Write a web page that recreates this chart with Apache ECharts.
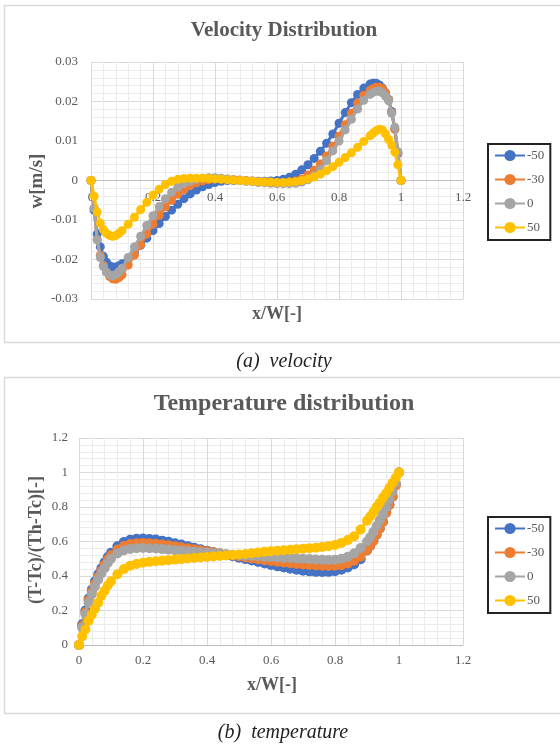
<!DOCTYPE html>
<html><head><meta charset="utf-8">
<script src="https://cdn.jsdelivr.net/npm/echarts@6/dist/echarts.min.js"></script>
<style>html,body{margin:0;padding:0;background:#fff}#c{width:560px;height:744px}</style>
</head><body><div id="c"></div>
<script>
// x/W positions shared by all series
const xs = [0,0.01,0.02,0.03,0.04,0.05,0.06,0.07,0.08,0.09,0.10,
 0.12,0.14,0.16,0.18,0.20,0.22,0.24,0.26,0.28,0.30,0.32,0.34,0.36,0.38,0.40,
 0.42,0.44,0.46,0.48,0.50,0.52,0.54,0.56,0.58,0.60,0.62,0.64,0.66,0.68,0.70,
 0.72,0.74,0.76,0.78,0.80,0.82,0.84,0.86,0.88,0.90,
 0.91,0.92,0.93,0.94,0.95,0.96,0.97,0.98,0.99,1.0];
const seriesNames = ['-50','-30','0','50'];
const colors = ['#4472C4','#ED7D31','#A5A5A5','#FFC000'];
const xTicks = [0,0.2,0.4,0.6,0.8,1,1.2];
const velTicks = [-0.03,-0.02,-0.01,0,0.01,0.02,0.03];
const tempTicks = [0,0.2,0.4,0.6,0.8,1,1.2];

// Velocity w [m/s]
const velM50 = [0,-0.0075,-0.0135,-0.0168,-0.0192,-0.0207,-0.0216,-0.0219,-0.0219,-0.0216,-0.0211,
 -0.0198,-0.0182,-0.0164,-0.0146,-0.0127,-0.0109,-0.0091,-0.0075,-0.0060,-0.0046,-0.0034,-0.0024,-0.0016,-0.0010,-0.0005,
 -0.0002,0.0000,0.0000,0.0000,-0.0001,-0.0001,-0.0002,-0.0002,-0.0001,0.0000,0.0003,0.0008,0.0016,0.0027,0.0040,
 0.0056,0.0074,0.0094,0.0118,0.0145,0.0172,0.0197,0.0218,0.0234,0.0244,
 0.0246,0.0246,0.0242,0.0234,0.0222,0.0205,0.0175,0.0130,0.0068,0];
const velM30 = [0,-0.0070,-0.0150,-0.0190,-0.0215,-0.0232,-0.0243,-0.0249,-0.0250,-0.0246,-0.0239,
 -0.0214,-0.0189,-0.0163,-0.0136,-0.0111,-0.0088,-0.0067,-0.0050,-0.0035,-0.0023,-0.0013,-0.0006,-0.0001,0.0002,0.0004,
 0.0004,0.0003,0.0002,0.0001,0.0000,-0.0002,-0.0003,-0.0004,-0.0005,-0.0005,-0.0005,-0.0004,-0.0001,0.0004,0.0014,
 0.0026,0.0042,0.0062,0.0086,0.0112,0.0141,0.0170,0.0196,0.0216,0.0228,
 0.0233,0.0236,0.0236,0.0232,0.0222,0.0205,0.0172,0.0130,0.0070,0];
const vel0 = [0,-0.0070,-0.0150,-0.0195,-0.0218,-0.0232,-0.0239,-0.0241,-0.0238,-0.0231,-0.0222,
 -0.0195,-0.0168,-0.0141,-0.0114,-0.0089,-0.0066,-0.0046,-0.0030,-0.0017,-0.0008,-0.0002,0.0003,0.0006,0.0007,0.0007,
 0.0006,0.0004,0.0002,0.0000,-0.0002,-0.0003,-0.0005,-0.0006,-0.0007,-0.0008,-0.0008,-0.0008,-0.0007,-0.0004,0.0002,
 0.0012,0.0028,0.0050,0.0075,0.0100,0.0128,0.0155,0.0181,0.0203,0.0218,
 0.0223,0.0226,0.0226,0.0222,0.0213,0.0202,0.0170,0.0135,0.0073,0];
const vel50 = [0,-0.0040,-0.0080,-0.0108,-0.0124,-0.0134,-0.0139,-0.0141,-0.0139,-0.0134,-0.0127,
 -0.0111,-0.0093,-0.0074,-0.0055,-0.0037,-0.0022,-0.0010,-0.0002,0.0003,0.0005,0.0006,0.0006,0.0006,0.0005,0.0004,
 0.0003,0.0002,0.0001,0.0000,-0.0001,-0.0002,-0.0003,-0.0004,-0.0004,-0.0005,-0.0005,-0.0004,-0.0003,0.0000,0.0004,
 0.0009,0.0016,0.0025,0.0035,0.0046,0.0058,0.0070,0.0084,0.0099,0.0113,
 0.0120,0.0126,0.0130,0.0128,0.0118,0.0104,0.0090,0.0072,0.0040,0];

// Temperature (T-Tc)/(Th-Tc)
const tmpM50 = [0,0.12,0.20,0.27,0.32,0.37,0.41,0.445,0.48,0.51,0.535,
 0.572,0.597,0.610,0.616,0.617,0.615,0.611,0.605,0.598,0.590,0.582,0.573,0.564,0.555,0.547,
 0.538,0.530,0.522,0.514,0.506,0.498,0.490,0.481,0.472,0.464,0.456,0.449,0.442,0.436,0.431,
 0.427,0.424,0.423,0.424,0.428,0.436,0.449,0.468,0.497,0.548,
 0.575,0.605,0.64,0.675,0.715,0.77,0.815,0.86,0.93,1.0];
const tmpM30 = [0,0.11,0.19,0.26,0.31,0.355,0.395,0.43,0.465,0.495,0.52,
 0.553,0.574,0.585,0.590,0.591,0.590,0.587,0.583,0.578,0.573,0.567,0.561,0.555,0.549,0.543,
 0.537,0.531,0.525,0.519,0.514,0.508,0.502,0.497,0.492,0.487,0.482,0.478,0.474,0.470,0.467,
 0.464,0.461,0.459,0.458,0.459,0.463,0.472,0.488,0.512,0.55,
 0.575,0.605,0.64,0.675,0.715,0.765,0.81,0.86,0.925,1.0];
const tmp0 = [0,0.10,0.18,0.245,0.295,0.34,0.38,0.415,0.445,0.475,0.50,
 0.530,0.548,0.557,0.561,0.562,0.561,0.559,0.556,0.553,0.550,0.547,0.544,0.541,0.538,0.535,
 0.532,0.529,0.526,0.523,0.520,0.518,0.516,0.514,0.512,0.510,0.508,0.506,0.504,0.502,0.500,
 0.498,0.496,0.494,0.493,0.494,0.500,0.512,0.532,0.562,0.600,
 0.625,0.655,0.69,0.725,0.76,0.80,0.845,0.89,0.94,1.0];
const tmp50 = [0,0.05,0.09,0.14,0.175,0.21,0.245,0.285,0.315,0.345,0.37,
 0.41,0.44,0.46,0.47,0.477,0.482,0.486,0.489,0.492,0.495,0.498,0.501,0.504,0.507,0.510,
 0.513,0.516,0.519,0.522,0.525,0.528,0.532,0.536,0.540,0.543,0.546,0.549,0.552,0.555,0.558,
 0.561,0.564,0.568,0.573,0.580,0.592,0.608,0.630,0.67,0.72,
 0.745,0.77,0.80,0.825,0.855,0.88,0.91,0.94,0.97,1.0];

const velSets = [velM50, velM30, vel0, vel50];
const tmpSets = [tmpM50, tmpM30, tmp0, tmp50];

const SERIF = "'Liberation Serif','Times New Roman',serif";
const GREY = '#595959';

function pts(arr){ return xs.map((x,i)=>[x, arr[i]]); }

function mkX(gi, offset){
  return {
    type:'value', gridIndex:gi, min:xTicks[0], max:xTicks[xTicks.length-1], interval:0.2,
    offset: offset,
    axisLine:{show:true, onZero:false, lineStyle:{color:'#bfbfbf', width:1}},
    axisTick:{show:false},
    axisLabel:{color:GREY, fontFamily:SERIF, fontSize:13, margin:gi===0?11:9},
    splitLine:{show:true, lineStyle:{color:'#d9d9d9', width:1}},
    minorTick:{show:false, splitNumber:5},
    minorSplitLine:{show:true, lineStyle:{color:'#ececec', width:1}}
  };
}
function mkY(gi, ticks){
  return {
    type:'value', gridIndex:gi, min:ticks[0], max:ticks[ticks.length-1],
    interval: ticks[1]-ticks[0],
    axisLine:{show:false},
    axisTick:{show:false},
    axisLabel:{color:GREY, fontFamily:SERIF, fontSize:13, margin:gi===0?13:11,
      formatter:v=>String(Math.round(v*1000)/1000)},
    splitLine:{show:true, lineStyle:{color:'#d9d9d9', width:1}},
    minorTick:{show:false, splitNumber:5},
    minorSplitLine:{show:true, lineStyle:{color:'#ececec', width:1}}
  };
}

const series = [];
seriesNames.forEach((n,k)=>{
  series.push({name:n, type:'line', xAxisIndex:0, yAxisIndex:0, data:pts(velSets[k]),
    symbol:'circle', symbolSize:9, showAllSymbol:true, color:colors[k],
    lineStyle:{width:3}, itemStyle:{color:colors[k]}, animation:false, z:2+k});
  series.push({name:n, type:'line', xAxisIndex:1, yAxisIndex:1, data:pts(tmpSets[k]),
    symbol:'circle', symbolSize:10, showAllSymbol:true, color:colors[k],
    lineStyle:{width:3}, itemStyle:{color:colors[k]}, animation:false, z:2+k});
});

function legendAt(top){
  return {
    orient:'vertical', left:488, top:top, data:seriesNames,
    padding:[5,6,6,6], itemGap:11, itemWidth:30, itemHeight:14,
    borderColor:'#222', borderWidth:2, backgroundColor:'#fff',
    textStyle:{color:GREY, fontFamily:SERIF, fontSize:13, padding:[0,0,0,-3]},
    selectedMode:false
  };
}

function txt(x,y,text,font,fill,rot){
  return {type:'text', x:x, y:y, rotation:rot||0, z:10,
    style:{text:text, font:font, fill:fill, align:'center', verticalAlign:'middle'}};
}

const option = {
  animation:false,
  grid:[
    {left:91, top:62, width:372, height:237},
    {left:79, top:438, width:384, height:207}
  ],
  xAxis:[mkX(0, -118.5), mkX(1, 0)],
  yAxis:[mkY(0, velTicks), mkY(1, tempTicks)],
  legend:[legendAt(144), legendAt(517)],
  series: series,
  graphic:[
    {type:'rect', z:-1, shape:{x:4.5, y:5.5, width:560, height:337}, style:{fill:'none', stroke:'#d9d9d9', lineWidth:1.5}},
    {type:'rect', z:-1, shape:{x:4.5, y:377.5, width:560, height:336}, style:{fill:'none', stroke:'#d9d9d9', lineWidth:1.5}},
    txt(284, 31, 'Velocity Distribution', "bold 21px "+SERIF, GREY),
    txt(277, 314, 'x/W[-]', "bold 18px "+SERIF, GREY),
    txt(37, 181, 'w[m/s]', "bold 19px "+SERIF, GREY, Math.PI/2),
    txt(284, 362, '(a)  velocity', "italic 20px "+SERIF, '#222'),
    txt(284, 404, 'Temperature distribution', "bold 24px "+SERIF, GREY),
    txt(272, 685, 'x/W[-]', "bold 18px "+SERIF, GREY),
    txt(36, 540, '(T-Tc)/(Th-Tc)[-]', "bold 18px "+SERIF, GREY, Math.PI/2),
    txt(283, 733, '(b)  temperature', "italic 20px "+SERIF, '#222')
  ]
};

const chart = echarts.init(document.getElementById('c'), null, {renderer:'canvas'});
chart.setOption(option);
</script>
</body></html>
